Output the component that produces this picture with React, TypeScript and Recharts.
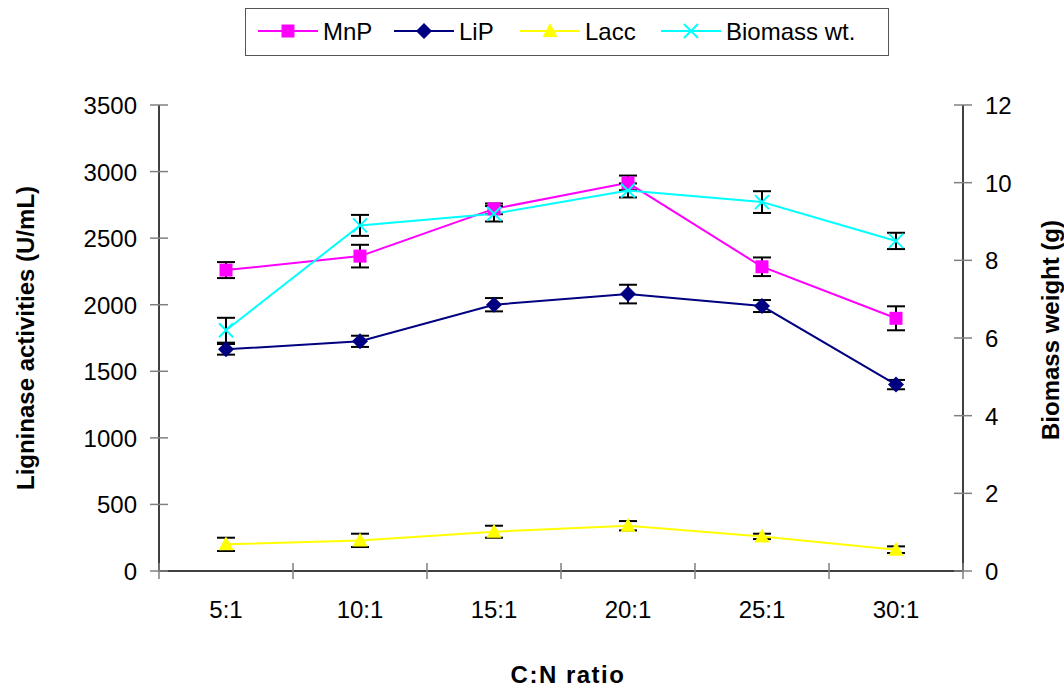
import React from 'react';
import { ComposedChart, Line, XAxis, YAxis, ErrorBar, Legend, Label } from 'recharts';

const categories = ['5:1', '10:1', '15:1', '20:1', '25:1', '30:1'];
const mnp = [2260, 2365, 2720, 2915, 2285, 1898];
const mnpErr = [60, 85, 40, 55, 70, 90];
const lip = [1665, 1725, 2000, 2080, 1990, 1400];
const lipErr = [40, 42, 50, 70, 45, 35];
const lacc = [200, 230, 295, 340, 260, 160];
const laccErr = [50, 50, 45, 35, 20, 25];
const biomass = [6.2, 8.9, 9.2, 9.8, 9.5, 8.5];
const biomassErr = [0.32, 0.27, 0.2, 0.18, 0.28, 0.21];

const leftTicks = [0, 500, 1000, 1500, 2000, 2500, 3000, 3500];
const rightTicks = [0, 2, 4, 6, 8, 10, 12];
const xTicks = [0, 0.5, 1, 1.5, 2, 2.5, 3, 3.5, 4, 4.5, 5, 5.5, 6];

const data = categories.map((c, i) => ({
  x: i + 0.5,
  cat: c,
  mnp: mnp[i],
  mnpErr: mnpErr[i],
  lip: lip[i],
  lipErr: lipErr[i],
  lacc: lacc[i],
  laccErr: laccErr[i],
  biomass: biomass[i],
  biomassErr: biomassErr[i],
}));

const FONT = '"Liberation Sans", Arial, Helvetica, sans-serif';
const MNP_C = '#FF00FF';
const LIP_C = '#000080';
const LACC_C = '#FFFF00';
const BIO_C = '#00FFFF';

type Shape = 'square' | 'diamond' | 'triangle' | 'cross';

const marker = (shape: Shape, cx: number, cy: number, color: string, key?: any) => {
  if (shape === 'square') {
    return <rect key={key} x={cx - 6.5} y={cy - 6.5} width={13} height={13} fill={color} />;
  }
  if (shape === 'diamond') {
    return (
      <polygon
        key={key}
        points={`${cx},${cy - 8} ${cx + 8},${cy} ${cx},${cy + 8} ${cx - 8},${cy}`}
        fill={color}
      />
    );
  }
  if (shape === 'triangle') {
    return (
      <polygon
        key={key}
        points={`${cx},${cy - 8} ${cx + 7.5},${cy + 6} ${cx - 7.5},${cy + 6}`}
        fill={color}
      />
    );
  }
  return (
    <g key={key}>
      <line x1={cx - 7} y1={cy - 7} x2={cx + 7} y2={cy + 7} stroke={color} strokeWidth={2} />
      <line x1={cx - 7} y1={cy + 7} x2={cx + 7} y2={cy - 7} stroke={color} strokeWidth={2} />
    </g>
  );
};

const makeDot = (shape: Shape, color: string) => (props: any) => {
  const { cx, cy, index } = props;
  if (cx == null || cy == null) return <g key={`d${index}`} />;
  return marker(shape, cx, cy, color, `d${index}`);
};

const series = [
  { key: 'mnp', name: 'MnP', color: MNP_C, shape: 'square' as Shape },
  { key: 'lip', name: 'LiP', color: LIP_C, shape: 'diamond' as Shape },
  { key: 'lacc', name: 'Lacc', color: LACC_C, shape: 'triangle' as Shape },
  { key: 'biomass', name: 'Biomass wt.', color: BIO_C, shape: 'cross' as Shape },
];

const XTick = (props: any) => {
  const { x, y, payload } = props;
  const v = payload.value;
  if (Math.abs(v - Math.round(v)) < 1e-6) {
    return <line x1={x} x2={x} y1={y - 8} y2={y + 8} stroke="#808080" strokeWidth={1.5} />;
  }
  const idx = Math.floor(v);
  return (
    <text x={x} y={y + 47} textAnchor="middle" fontSize={24} fontFamily={FONT} fill="#000">
      {categories[idx]}
    </text>
  );
};

const LeftTick = (props: any) => {
  const { x, y, payload } = props;
  return (
    <g>
      <line x1={x - 9} x2={x + 9} y1={y} y2={y} stroke="#808080" strokeWidth={1.5} />
      <text x={x - 22} y={y + 9} textAnchor="end" fontSize={24} fontFamily={FONT} fill="#000">
        {payload.value}
      </text>
    </g>
  );
};

const RightTick = (props: any) => {
  const { x, y, payload } = props;
  return (
    <g>
      <line x1={x - 9} x2={x + 9} y1={y} y2={y} stroke="#808080" strokeWidth={1.5} />
      <text x={x + 22} y={y + 9} textAnchor="start" fontSize={24} fontFamily={FONT} fill="#000">
        {payload.value}
      </text>
    </g>
  );
};

const LegendBox = () => {
  const itemWidths = [136, 126, 141, 160];
  let offset = 12;
  return (
    <div
      style={{
        width: 644,
        height: 48,
        border: '1.5px solid #555',
        background: '#fff',
        boxSizing: 'border-box',
        position: 'relative',
        fontFamily: FONT,
      }}
    >
      <svg width={644} height={48} style={{ position: 'absolute', left: 0, top: 0 }}>
        {series.map((s, i) => {
          const x0 = offset;
          offset += itemWidths[i];
          return (
            <g key={s.key}>
              <line x1={x0} x2={x0 + 60} y1={22} y2={22} stroke={s.color} strokeWidth={2} />
              {marker(s.shape, x0 + 30, 22, s.color)}
              <text x={x0 + 65} y={31} fontSize={24} fontFamily={FONT} fill="#000">
                {s.name}
              </text>
            </g>
          );
        })}
      </svg>
    </div>
  );
};

export default function App() {
  return (
    <div style={{ position: 'absolute', left: 0, top: 0, width: 1064, height: 690, background: '#fff' }}>
      <ComposedChart
        width={1064}
        height={690}
        data={data}
        margin={{ top: 105, right: 0, bottom: 0, left: 0 }}
      >
        <XAxis
          dataKey="x"
          type="number"
          domain={[0, 6]}
          ticks={xTicks}
          interval={0}
          tickSize={0}
          tickMargin={0}
          tick={<XTick />}
          height={119}
          axisLine={{ stroke: '#000', strokeWidth: 1.5 }}
          tickLine={false}
        >
          <Label
            content={() => (
              <text x={568} y={683} textAnchor="middle" fontSize={24} fontWeight="bold" fontFamily={FONT} letterSpacing={1.5} fill="#000">
                C:N ratio
              </text>
            )}
          />
        </XAxis>
        <YAxis
          yAxisId="left"
          orientation="left"
          width={159}
          domain={[0, 3500]}
          ticks={leftTicks}
          interval={0}
          tickSize={0}
          tickMargin={0}
          tick={<LeftTick />}
          axisLine={{ stroke: '#000', strokeWidth: 1.5 }}
          tickLine={false}
        >
          <Label
            content={() => (
              <text
                transform="translate(25,338) rotate(-90)"
                textAnchor="middle"
                dominantBaseline="central"
                fontSize={24}
                fontWeight="bold"
                fontFamily={FONT}
                fill="#000"
              >
                Ligninase activities (U/mL)
              </text>
            )}
          />
        </YAxis>
        <YAxis
          yAxisId="right"
          orientation="right"
          width={101}
          domain={[0, 12]}
          ticks={rightTicks}
          interval={0}
          tickSize={0}
          tickMargin={0}
          tick={<RightTick />}
          axisLine={{ stroke: '#000', strokeWidth: 1.5 }}
          tickLine={false}
        >
          <Label
            content={() => (
              <text
                transform="translate(1050,330) rotate(-90)"
                textAnchor="middle"
                dominantBaseline="central"
                fontSize={24}
                fontWeight="bold"
                fontFamily={FONT}
                fill="#000"
              >
                Biomass weight (g)
              </text>
            )}
          />
        </YAxis>
        <Legend
          layout="vertical"
          align="center"
          verticalAlign="middle"
          wrapperStyle={{ top: 8, left: 245, width: 644, height: 48 }}
          content={() => <LegendBox />}
        />
        <Line
          yAxisId="left"
          dataKey="mnp"
          name="MnP"
          stroke={MNP_C}
          strokeWidth={2}
          isAnimationActive={false}
          dot={makeDot('square', MNP_C)}
          activeDot={false}
        >
          <ErrorBar dataKey="mnpErr" direction="y" width={9} stroke="#000" strokeWidth={2} />
        </Line>
        <Line
          yAxisId="left"
          dataKey="lip"
          name="LiP"
          stroke={LIP_C}
          strokeWidth={2}
          isAnimationActive={false}
          dot={makeDot('diamond', LIP_C)}
          activeDot={false}
        >
          <ErrorBar dataKey="lipErr" direction="y" width={9} stroke="#000" strokeWidth={2} />
        </Line>
        <Line
          yAxisId="left"
          dataKey="lacc"
          name="Lacc"
          stroke={LACC_C}
          strokeWidth={2}
          isAnimationActive={false}
          dot={makeDot('triangle', LACC_C)}
          activeDot={false}
        >
          <ErrorBar dataKey="laccErr" direction="y" width={9} stroke="#000" strokeWidth={2} />
        </Line>
        <Line
          yAxisId="right"
          dataKey="biomass"
          name="Biomass wt."
          stroke={BIO_C}
          strokeWidth={2}
          isAnimationActive={false}
          dot={makeDot('cross', BIO_C)}
          activeDot={false}
        >
          <ErrorBar dataKey="biomassErr" direction="y" width={9} stroke="#000" strokeWidth={2} />
        </Line>
      </ComposedChart>
    </div>
  );
}
